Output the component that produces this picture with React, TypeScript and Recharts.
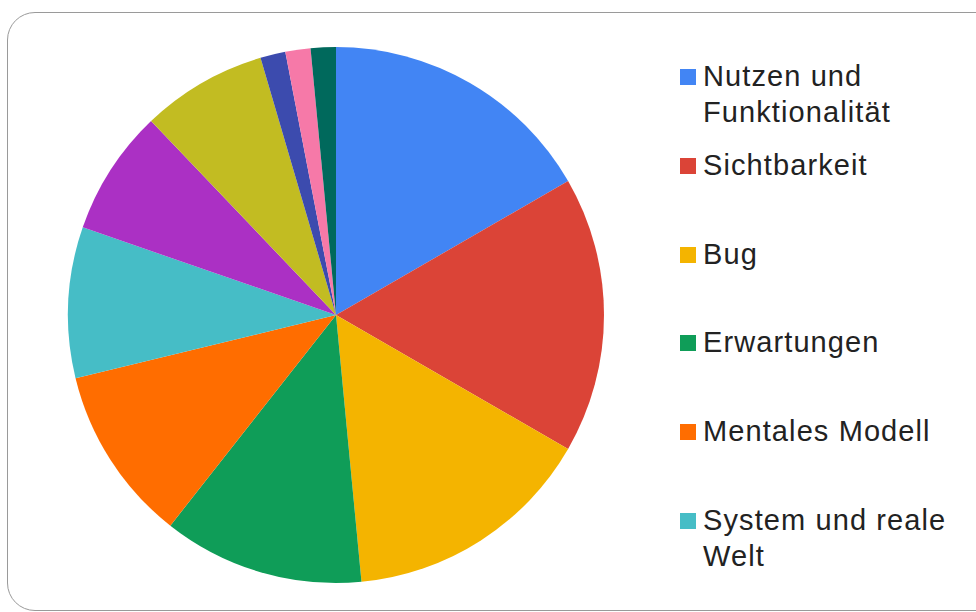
import { Cell, Legend, Pie, PieChart } from 'recharts'

const categories = [
  'Nutzen und Funktionalität',
  'Sichtbarkeit',
  'Bug',
  'Erwartungen',
  'Mentales Modell',
  'System und reale Welt',
  'Konsistenz',
  'Fehlervermeidung',
  'Flexibilität',
  'Ästhetik',
  'Hilfe',
]
const counts = [11, 11, 10, 8, 7, 6, 5, 5, 1, 1, 1]
const colors = [
  '#4285F4',
  '#DB4437',
  '#F4B400',
  '#0F9D58',
  '#FF6D00',
  '#46BDC6',
  '#AB30C4',
  '#C2BC22',
  '#3C4BAE',
  '#F679A8',
  '#00695C',
]
const visibleLegendItems = 6

const data = categories.map((name, i) => ({ name, value: counts[i] }))

function LegendList({ payload }: { payload?: any[] }) {
  // recharts sorts legend entries by name, put them back in slice order
  const items = [...(payload || [])]
    .sort((a, b) => categories.indexOf(a.value) - categories.indexOf(b.value))
    .slice(0, visibleLegendItems)
  return (
    <div>
      {items.map((item) => (
        <div key={item.value} style={{ display: 'flex', height: 88.8 }}>
          <span
            style={{
              width: 16,
              height: 16,
              marginTop: 11,
              marginRight: 7,
              flex: '0 0 16px',
              background: item.color,
            }}
          />
          <span
            style={{
              width: 262,
              fontSize: 29,
              lineHeight: '36px',
              letterSpacing: 1.1,
              color: '#222',
            }}
          >
            {item.value}
          </span>
        </div>
      ))}
    </div>
  )
}

export default function App() {
  return (
    <div
      style={{
        position: 'fixed',
        left: 0,
        top: 0,
        width: 976,
        height: 612,
        overflow: 'hidden',
        background: '#fff',
        fontFamily: '"Liberation Sans", Arial, sans-serif',
      }}
    >
      <div
        style={{
          position: 'absolute',
          left: 7,
          top: 12,
          width: 1010,
          height: 597,
          border: '1.5px solid #9a9a9a',
          borderRadius: 28,
        }}
      />
      <div style={{ position: 'absolute', left: 0, top: 0 }}>
        <PieChart width={976} height={612} margin={{ top: 0, right: 0, bottom: 0, left: 0 }}>
          <Pie
            data={data}
            dataKey="value"
            nameKey="name"
            cx={336}
            cy={315}
            outerRadius={268}
            startAngle={90}
            endAngle={-270}
            stroke="none"
            isAnimationActive={false}
          >
            {data.map((d, i) => (
              <Cell key={d.name} fill={colors[i]} />
            ))}
          </Pie>
          <Legend
            layout="vertical"
            align="right"
            verticalAlign="top"
            content={<LegendList />}
            wrapperStyle={{ left: 680, top: 58, width: 292 }}
          />
        </PieChart>
      </div>
    </div>
  )
}
